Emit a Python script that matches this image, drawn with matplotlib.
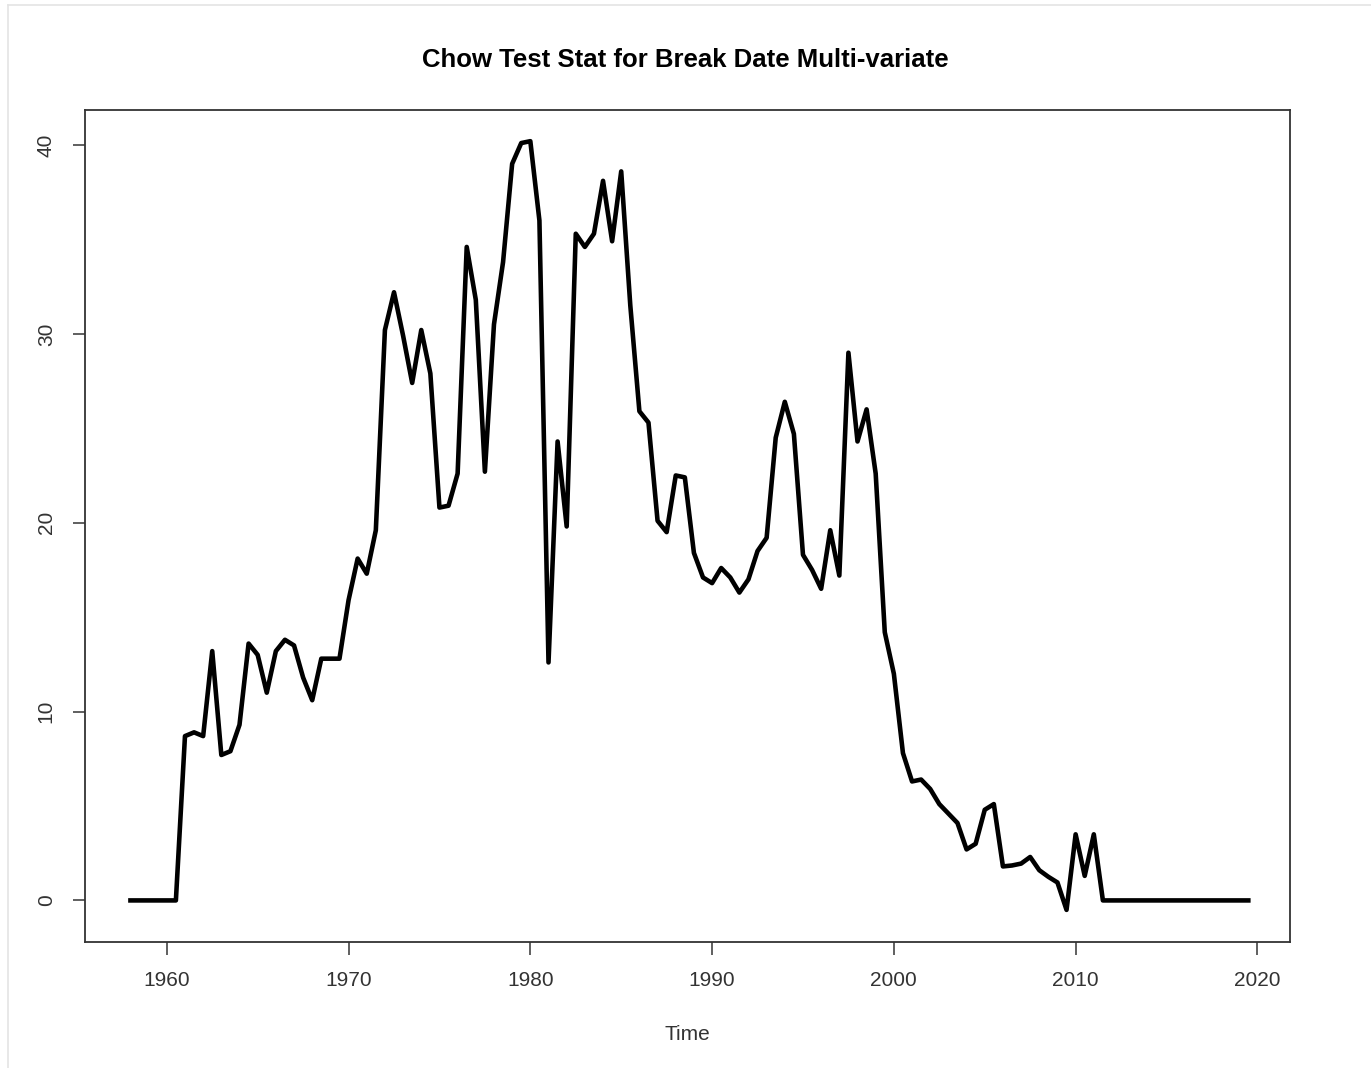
import numpy as np
import matplotlib
matplotlib.use("Agg")
import matplotlib.pyplot as plt
from matplotlib.lines import Line2D

# semi-annual series, 1958.0 .. 2019.5
start_year = 1958.0
step = 0.5
chow_stat = [
    0, 0, 0, 0, 0, 0,                      # 1958.0 - 1960.5
    8.7, 8.9, 8.7, 13.2, 7.7, 7.9,         # 1961.0 - 1963.5
    9.3, 13.6, 13.0, 11.0, 13.2, 13.8,     # 1964.0 - 1966.5
    13.5, 11.8, 10.6, 12.8, 12.8, 12.8,    # 1967.0 - 1969.5
    15.9, 18.1, 17.3, 19.6, 30.2, 32.2,    # 1970.0 - 1972.5
    29.9, 27.4, 30.2, 27.9, 20.8, 20.9,    # 1973.0 - 1975.5
    22.6, 34.6, 31.8, 22.7, 30.5, 33.8,    # 1976.0 - 1978.5
    39.0, 40.1, 40.2, 36.0, 12.6, 24.3,    # 1979.0 - 1981.5
    19.8, 35.3, 34.6, 35.3, 38.1, 34.9,    # 1982.0 - 1984.5
    38.6, 31.5, 25.9, 25.3, 20.1, 19.5,    # 1985.0 - 1987.5
    22.5, 22.4, 18.4, 17.1, 16.8, 17.6,    # 1988.0 - 1990.5
    17.1, 16.3, 17.0, 18.5, 19.2, 24.5,    # 1991.0 - 1993.5
    26.4, 24.7, 18.3, 17.5, 16.5, 19.6,    # 1994.0 - 1996.5
    17.2, 29.0, 24.3, 26.0, 22.6, 14.2,    # 1997.0 - 1999.5
    12.0, 7.8, 6.3, 6.4, 5.9, 5.1,         # 2000.0 - 2002.5
    4.6, 4.1, 2.7, 3.0, 4.8, 5.1,          # 2003.0 - 2005.5
    1.8, 1.85, 1.95, 2.3, 1.6, 1.25,       # 2006.0 - 2008.5
    0.95, -0.5, 3.5, 1.3, 3.5, 0,          # 2009.0 - 2011.5
    0, 0, 0, 0, 0, 0, 0, 0,                # 2012.0 - 2015.5
    0, 0, 0, 0, 0, 0, 0, 0,                # 2016.0 - 2019.5
]
years = start_year + step * np.arange(len(chow_stat))

x_ticks = [1960, 1970, 1980, 1990, 2000, 2010, 2020]
y_ticks = [0, 10, 20, 30, 40]

plt.rcParams['font.family'] = ['Liberation Sans', 'DejaVu Sans']

fig = plt.figure(figsize=(13.71, 10.68), dpi=100)
ax = fig.add_axes([0.062, 0.118, 0.879, 0.779])

ax.plot(years, chow_stat, color='black', linewidth=3.3, solid_joinstyle='round')

ax.set_xlim(1955.5, 2021.8)
ax.set_ylim(-2.2, 41.85)
ax.set_xticks(x_ticks)
ax.set_yticks(y_ticks)
ax.tick_params(axis='both', length=9, width=1.2, color='#444444',
               labelcolor='#333333', labelsize=15, pad=12)
for lab in ax.get_yticklabels():
    lab.set_rotation(90)
    lab.set_va('center')
for sp in ax.spines.values():
    sp.set_color('#333333')
    sp.set_linewidth(1.3)

ax.set_xlabel('Time', fontsize=15, color='#333333', labelpad=25)
fig.suptitle('Chow Test Stat for Break Date Multi-variate', fontsize=18.5,
             fontweight='bold', y=0.944, va='center')

# faint screenshot border
fig.add_artist(Line2D([0.006, 1.0], [0.995, 0.995], color='#e4e4e4', linewidth=1.2))
fig.add_artist(Line2D([0.006, 0.006], [0.0, 0.995], color='#e4e4e4', linewidth=1.2))

fig.savefig('out.png', dpi=100)
